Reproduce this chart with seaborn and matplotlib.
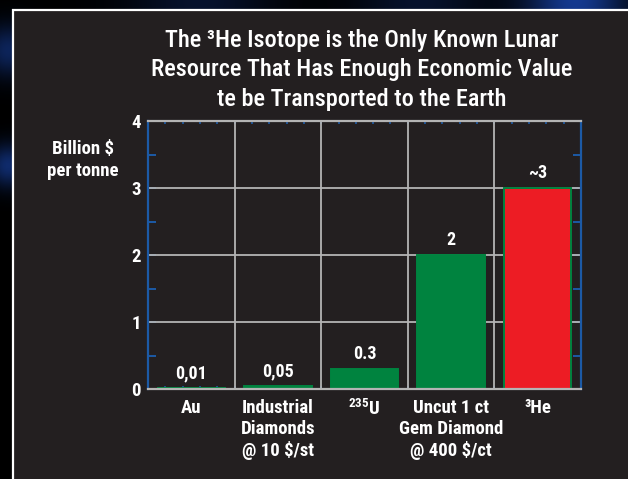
"""
Valor económico de recursos lunares: barras en mil millones de $ por tonelada.
"""

import matplotlib.pyplot as plt
import numpy as np
import seaborn as sns
from matplotlib.patches import Rectangle
from matplotlib.ticker import MultipleLocator

CATEGORIAS = [
    "Au",
    "Industrial\nDiamonds\n@ 10 $/st",
    "$^{235}$U",
    "Uncut 1 ct\nGem Diamond\n@ 400 $/ct",
    "³He",
]
VALORES = [0.01, 0.05, 0.3, 2, 3]
ETIQUETAS = ["0,01", "0,05", "0.3", "2", "~3"]
COLORES = ["#00833f", "#00833f", "#00833f", "#00833f", "#ed1c24"]
Y_TICKS = [0, 1, 2, 3, 4]

TITULO = ("The ³He Isotope is the Only Known Lunar\n"
          "Resource That Has Enough Economic Value\n"
          "te be Transported to the Earth")

PANEL = "#231f20"
AZUL = "#1c5aa6"
GRIS = "#b4b4b4"
FUENTE = ["Roboto Condensed", "DejaVu Sans"]


def main():
    sns.set_style("dark")
    plt.rcParams["font.family"] = FUENTE
    plt.rcParams["font.weight"] = "bold"
    plt.rcParams["mathtext.fontset"] = "custom"
    plt.rcParams["mathtext.rm"] = "Roboto Condensed:bold"
    plt.rcParams["mathtext.it"] = "Roboto Condensed:bold"
    plt.rcParams["mathtext.bf"] = "Roboto Condensed:bold"

    fig = plt.figure(figsize=(6.28, 4.79), dpi=100, facecolor="black")

    # fondo "espacio": brillos azulados difusos
    bg = fig.add_axes([0, 0, 1, 1], zorder=-10)
    yy, xx = np.mgrid[0:479, 0:628]
    glow = np.zeros_like(xx, dtype=float)
    for cx, cy, s, a in [(575, 0, 35, 0.8), (8, 50, 18, 0.5), (8, 165, 15, 0.6),
                         (200, 0, 50, 0.25), (420, 0, 45, 0.25)]:
        glow += a * np.exp(-((xx - cx) ** 2 + (yy - cy) ** 2) / (2 * s ** 2))
    glow = np.clip(glow, 0, 1)
    img = np.zeros((479, 628, 3))
    img[..., 0] = 0.10 * glow
    img[..., 1] = 0.28 * glow
    img[..., 2] = 0.70 * glow
    bg.imshow(img, aspect="auto", interpolation="bilinear")
    bg.axis("off")

    # panel gris oscuro con borde blanco
    fig.patches.append(Rectangle((13 / 628, -0.01), 1.0, 1 - 10 / 479 + 0.01,
                                 transform=fig.transFigure, facecolor=PANEL,
                                 edgecolor="white", linewidth=1.6, zorder=-5))

    ax = fig.add_axes([148 / 628, 1 - 389 / 479, 433 / 628, 268 / 479])
    ax.set_facecolor(PANEL)

    sns.barplot(x=CATEGORIAS, y=VALORES, hue=CATEGORIAS, palette=COLORES,
                legend=False, width=0.78, saturation=1, ax=ax, zorder=3,
                edgecolor=COLORES, linewidth=1.4)

    ax.set_xlim(-0.5, len(CATEGORIAS) - 0.5)
    ax.set_ylim(0, 4)
    ax.set_yticks(Y_TICKS)
    ax.yaxis.set_minor_locator(MultipleLocator(0.5))
    ax.xaxis.set_minor_locator(MultipleLocator(0.2, offset=0.5))

    # rejilla
    ax.grid(False)
    for y in Y_TICKS[1:]:
        ax.axhline(y, color=GRIS, lw=1.3, zorder=1)
    for i in range(len(CATEGORIAS) - 1):
        ax.axvline(i + 0.5, color=GRIS, lw=1.3, zorder=1)

    for i, (v, t) in enumerate(zip(VALORES, ETIQUETAS)):
        ax.annotate(t, (i, v), xytext=(0, 4), textcoords="offset points",
                    ha="center", va="bottom", color="white", fontsize=13,
                    fontweight="bold")

    for lado in ("left", "right"):
        ax.spines[lado].set_color(AZUL)
        ax.spines[lado].set_linewidth(1.6)
    for lado in ("top", "bottom"):
        ax.spines[lado].set_color(GRIS)
        ax.spines[lado].set_linewidth(1.6)
        ax.spines[lado].set_zorder(4)

    ax.tick_params(axis="y", which="both", direction="in", left=True, right=True,
                   color=AZUL, width=1.4, length=6, labelcolor="white",
                   labelsize=13.5, pad=5)
    ax.tick_params(axis="x", which="major", length=0, labelcolor="white",
                   labelsize=13.5, pad=7)
    ax.tick_params(axis="x", which="minor", direction="in", bottom=True, top=True,
                   color=AZUL, width=1.2, length=2.5)
    for lbl in ax.get_xticklabels() + ax.get_yticklabels():
        lbl.set_fontweight("bold")
    ax.set_xlabel("")
    ax.set_ylabel("")

    fig.text(362 / 628, 1 - 29 / 479, TITULO, ha="center", va="top", color="white",
             fontsize=17.5, fontweight="medium", linespacing=1.35)
    fig.text(83 / 628, 1 - 160 / 479, "Billion $\nper tonne", ha="center",
             va="center", color="white", fontsize=13.5, fontweight="bold",
             linespacing=1.25)

    fig.savefig("out.png", dpi=100, facecolor="black")
    plt.close(fig)


if __name__ == "__main__":
    main()
